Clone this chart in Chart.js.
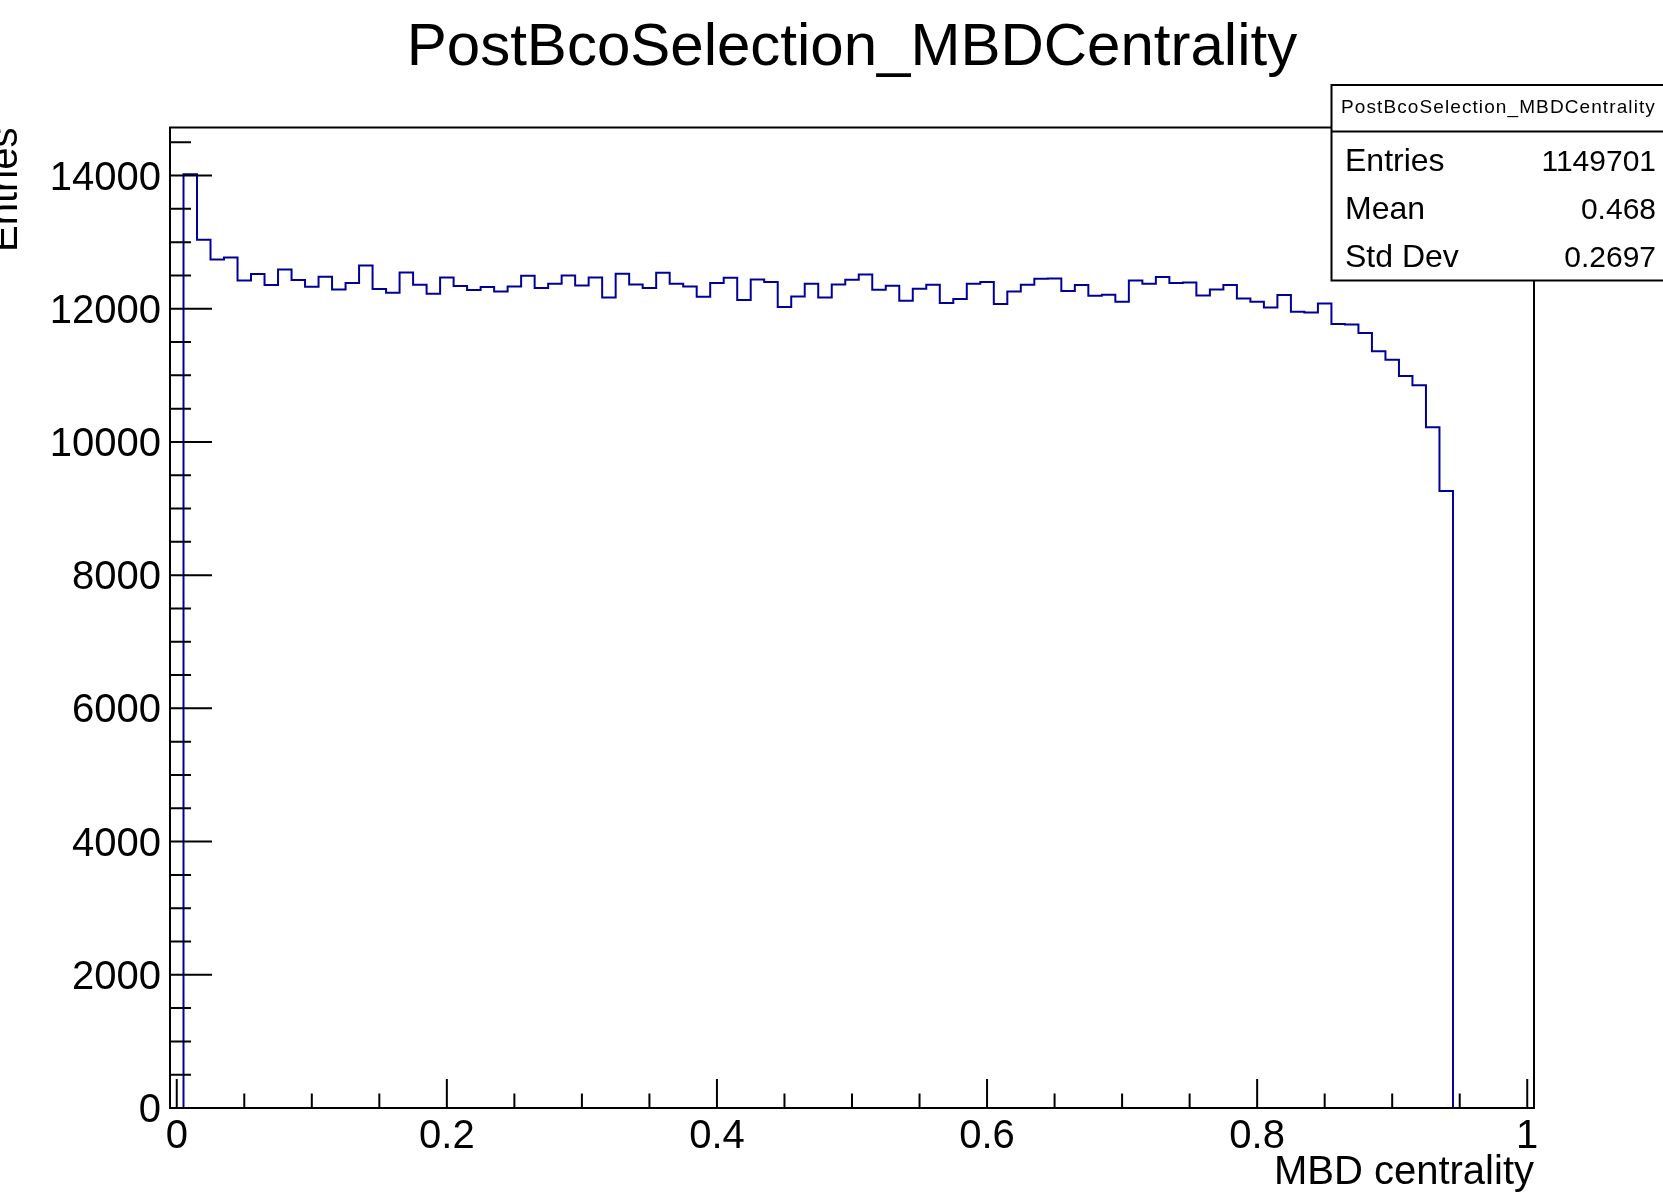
<!DOCTYPE html>
<html>
<head>
<meta charset="utf-8">
<title>PostBcoSelection_MBDCentrality</title>
<script src="https://cdn.jsdelivr.net/npm/chart.js@4.4.1/dist/chart.umd.min.js"></script>
<style>
  html, body { margin: 0; padding: 0; background: #ffffff; }
  #chart-centrality { display: block; }
</style>
</head>
<body>
<canvas id="chart-centrality" width="1663" height="1195"></canvas>
<script>
const HIST_TITLE = "PostBcoSelection_MBDCentrality";
const X_TITLE = "MBD centrality";
const Y_TITLE = "Entries";
const FONT = "'Liberation Sans', Arial, Helvetica, sans-serif";

// 101 bins of width 0.01, centred on 0.00 ... 1.00
const BIN_LOW = -0.005;
const BIN_WIDTH = 0.01;

const binCounts = [
  0,     14020, 13035, 12740, 12770, 12425, 12520, 12355, 12590, 12430,
  12330, 12480, 12290, 12385, 12650, 12295, 12240, 12545, 12360, 12225,
  12470, 12340, 12280, 12325, 12260, 12335, 12495, 12310, 12375, 12500,
  12350, 12470, 12170, 12525, 12365, 12310, 12540, 12375, 12335, 12180,
  12385, 12465, 12130, 12440, 12400, 12025, 12185, 12375, 12170, 12365,
  12435, 12515, 12285, 12345, 12120, 12300, 12360, 12085, 12145, 12375,
  12400, 12070, 12260, 12360, 12450, 12455, 12265, 12355, 12195, 12210,
  12105, 12425, 12375, 12475, 12385, 12395, 12200, 12290, 12355, 12155,
  12105, 12020, 12205, 11955, 11945, 12080, 11770, 11765, 11635, 11360,
  11235, 10990, 10850, 10220, 9265,  0,     0,     0,     0,     0,
  0
];

const xMajorTicks = [0, 0.2, 0.4, 0.6, 0.8, 1];
const yMajorTicks = [0, 2000, 4000, 6000, 8000, 10000, 12000, 14000];
const X_MINOR_STEP = 0.05;
const Y_MINOR_STEP = 500;

const statLabels = ["Entries", "Mean", "Std Dev"];
const statValues = ["1149701", "0.468", "0.2697"];

const canvas = document.getElementById("chart-centrality");

const X_MAX = BIN_LOW + binCounts.length * BIN_WIDTH;
const Y_MAX = Math.max(...binCounts) * 1.05;

// step outline: each point sits on a bin's low edge, plus the closing high edge
const histPoints = binCounts.map((count, i) => ({ x: BIN_LOW + i * BIN_WIDTH, y: count }));
histPoints.push({ x: X_MAX, y: binCounts[binCounts.length - 1] });


function drawTicks(ctx, area, x, y) {
  ctx.lineWidth = 2;
  ctx.strokeStyle = "#000000";
  ctx.beginPath();
  for (let i = 0; i * X_MINOR_STEP <= 1.0001; i++) {
    const px = x.getPixelForValue(i * X_MINOR_STEP);
    const len = i % 4 === 0 ? 29 : 14.5;
    ctx.moveTo(px, area.bottom);
    ctx.lineTo(px, area.bottom - len);
  }
  for (let j = 0; j * Y_MINOR_STEP <= Y_MAX; j++) {
    const py = y.getPixelForValue(j * Y_MINOR_STEP);
    const len = j % 4 === 0 ? 42 : 21;
    ctx.moveTo(area.left, py);
    ctx.lineTo(area.left + len, py);
  }
  ctx.stroke();
}

function drawStatsBox(ctx) {
  const left = 1331.5;
  const top = 85;
  const bottom = 280.5;

  ctx.fillStyle = "#ffffff";
  ctx.fillRect(left, top, 400, bottom - top);
  ctx.lineWidth = 2;
  ctx.strokeStyle = "#000000";
  ctx.strokeRect(left, top, 400, bottom - top);
  ctx.beginPath();
  ctx.moveTo(left, 131.5);
  ctx.lineTo(left + 400, 131.5);
  ctx.stroke();

  ctx.fillStyle = "#000000";
  ctx.textBaseline = "alphabetic";
  ctx.textAlign = "left";
  ctx.font = `19px ${FONT}`;
  ctx.letterSpacing = "1.1px";
  ctx.fillText(HIST_TITLE, 1341, 113);
  ctx.letterSpacing = "0px";

  const rowBaselines = [171, 219, 266.5];
  statLabels.forEach((label, i) => {
    ctx.textAlign = "left";
    ctx.font = `32px ${FONT}`;
    ctx.fillText(label, 1345, rowBaselines[i]);
    ctx.textAlign = "right";
    ctx.font = `30px ${FONT}`;
    ctx.fillText(statValues[i], 1656, rowBaselines[i]);
  });
}

const rootFramePlugin = {
  id: "rootFrame",
  afterDraw(chart) {
    const { ctx, chartArea: area, scales: { x, y } } = chart;
    ctx.save();

    ctx.lineWidth = 2;
    ctx.strokeStyle = "#000000";
    ctx.strokeRect(area.left, area.top, area.right - area.left, area.bottom - area.top);
    drawTicks(ctx, area, x, y);

    // histogram title, centred over the frame
    ctx.fillStyle = "#000000";
    ctx.font = `60px ${FONT}`;
    ctx.textAlign = "center";
    ctx.textBaseline = "alphabetic";
    ctx.fillText(HIST_TITLE, (area.left + area.right) / 2, 65);

    // rotated y title, right aligned with the frame top
    ctx.save();
    ctx.translate(17, area.top);
    ctx.rotate(-Math.PI / 2);
    ctx.font = `40px ${FONT}`;
    ctx.textAlign = "right";
    ctx.fillText(Y_TITLE, 0, 0);
    ctx.restore();

    drawStatsBox(ctx);
    ctx.restore();
  },
};

const chartCentrality = new Chart(canvas, {
  type: "line",
  data: {
    datasets: [
      {
        label: HIST_TITLE,
        data: histPoints,
        stepped: "before",
        borderColor: "#000099",
        borderWidth: 2,
        pointRadius: 0,
        fill: false,
        tension: 0,
      },
    ],
  },
  options: {
    responsive: false,
    animation: false,
    layout: {
      padding: { left: 0, top: 127.5, right: 129, bottom: 0 },
    },
    plugins: {
      legend: { display: false },
      tooltip: { enabled: false },
      title: { display: false },
    },
    scales: {
      x: {
        type: "linear",
        min: BIN_LOW,
        max: X_MAX,
        grid: { display: false, drawTicks: false },
        border: { display: false },
        afterBuildTicks: (scale) => {
          scale.ticks = xMajorTicks.map((v) => ({ value: v }));
        },
        afterFit: (scale) => {
          scale.height = 87;
        },
        ticks: {
          autoSkip: false,
          maxRotation: 0,
          padding: 5,
          color: "#000000",
          font: { family: FONT, size: 40 },
          callback: (value) => String(value),
        },
        title: {
          display: true,
          text: X_TITLE,
          align: "end",
          color: "#000000",
          font: { family: FONT, size: 40, lineHeight: 1.1 },
          padding: 0,
        },
      },
      y: {
        min: 0,
        max: Y_MAX,
        grid: { display: false, drawTicks: false },
        border: { display: false },
        afterBuildTicks: (scale) => {
          scale.ticks = yMajorTicks.map((v) => ({ value: v }));
        },
        afterFit: (scale) => {
          scale.width = 170;
        },
        ticks: {
          autoSkip: false,
          padding: 9,
          labelOffset: 3,
          color: "#000000",
          font: { family: FONT, size: 40 },
          callback: (value) => String(value),
        },
      },
    },
  },
  plugins: [rootFramePlugin],
});
</script>
</body>
</html>
